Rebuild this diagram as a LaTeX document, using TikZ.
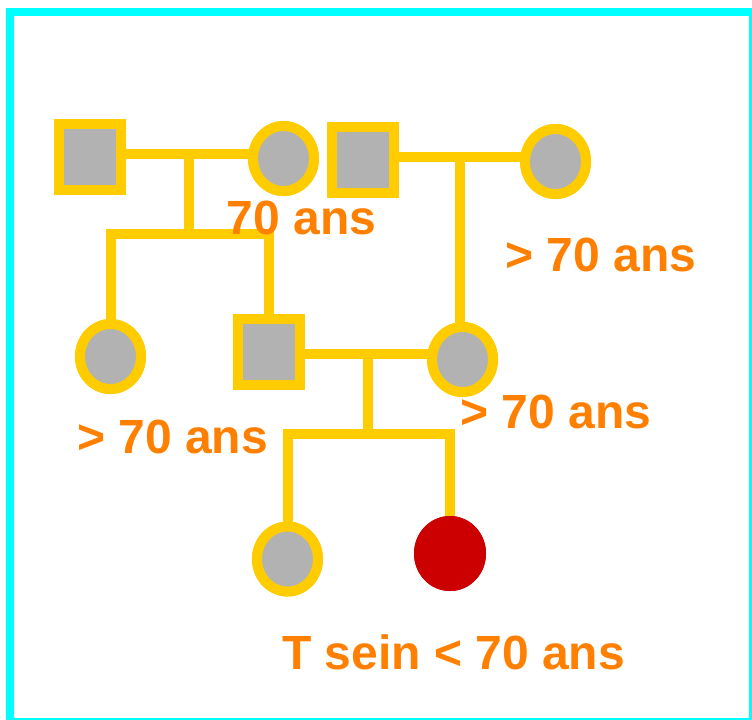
\documentclass[tikz,border=0pt]{standalone}
\usepackage{fontspec}
\setmainfont{Liberation Sans}
\usetikzlibrary{shapes.geometric}
\definecolor{pedline}{HTML}{FFCC00}
\definecolor{pedfill}{HTML}{B2B2B2}
\definecolor{pedtext}{HTML}{FF8000}
\definecolor{pedred}{HTML}{CC0000}
\definecolor{pedframe}{HTML}{00FFFF}
\begin{document}
\begin{tikzpicture}[x=0.75pt,y=-0.75pt,
  male/.style={rectangle,draw=pedline,fill=pedfill,line width=7.5pt,minimum width=46.5pt,minimum height=49.5pt,inner sep=0pt,outer sep=0pt},
  female/.style={ellipse,draw=pedline,fill=pedfill,line width=7.5pt,minimum width=45.75pt,minimum height=48.75pt,inner sep=0pt,outer sep=0pt},
  affected/.style={ellipse,fill=pedred,minimum width=54pt,minimum height=56.25pt,inner sep=0pt,outer sep=0pt},
  link/.style={draw=pedline,line width=7.5pt,line join=miter},
  agelabel/.style={text=pedtext,font=\fontsize{36}{40}\selectfont\bfseries,inner sep=0pt}]
\useasboundingbox (0,0) rectangle (752,719);
\draw[pedframe,line width=6pt] (10,12) rectangle (753,722);
% nodes
\node[male] (s1) at (90,157) {};
\node[female] (c1) at (283.5,158.5) {};
\node[male] (s2) at (363,159.5) {};
\node[female] (c2) at (555.5,161.5) {};
\node[female] (c3) at (110.5,356.5) {};
\node[male] (s3) at (269,352) {};
\node[female] (c4) at (462.5,359.5) {};
\node[female] (c5) at (287.5,559) {};
\node[affected] (r) at (450,553.5) {};
% junction coordinates
\coordinate (m1) at (189,154);
\coordinate (j1) at (189,234);
\coordinate (m2) at (460,157);
\coordinate (m3) at (368,353.5);
\coordinate (j3) at (368,434);
% connectors
\draw[link] (s1.east |- m1) -- (c1.west |- m1);
\draw[link] (m1) -- (j1);
\draw[link] (c3.north) |- (j1) -| (s3.north);
\draw[link] (s2.east |- m2) -- (c2.west |- m2);
\draw[link] (m2) -- (m2 |- c4.north);
\draw[link] (s3.east |- m3) -- (c4.west |- m3);
\draw[link] (m3) -- (j3);
\draw[link] (c5.north) |- (j3) -| (r.north);
% redraw nodes on top of connector ends
\node[male] at (s1) {};
\node[female] at (c1) {};
\node[male] at (s2) {};
\node[female] at (c2) {};
\node[female] at (c3) {};
\node[male] at (s3) {};
\node[female] at (c4) {};
\node[female] at (c5) {};
\node[affected] at (r) {};
% labels
\node[agelabel] (t1) at (301.5,217.5) {70 ans};
\node[agelabel] (t2) at (601,255) {> 70 ans};
\node[agelabel] (t3) at (172.5,436.5) {> 70 ans};
\node[agelabel] (t4) at (556,412) {> 70 ans};
\node[agelabel] (t5) at (453.5,652) {T sein < 70 ans};
\end{tikzpicture}
\end{document}
